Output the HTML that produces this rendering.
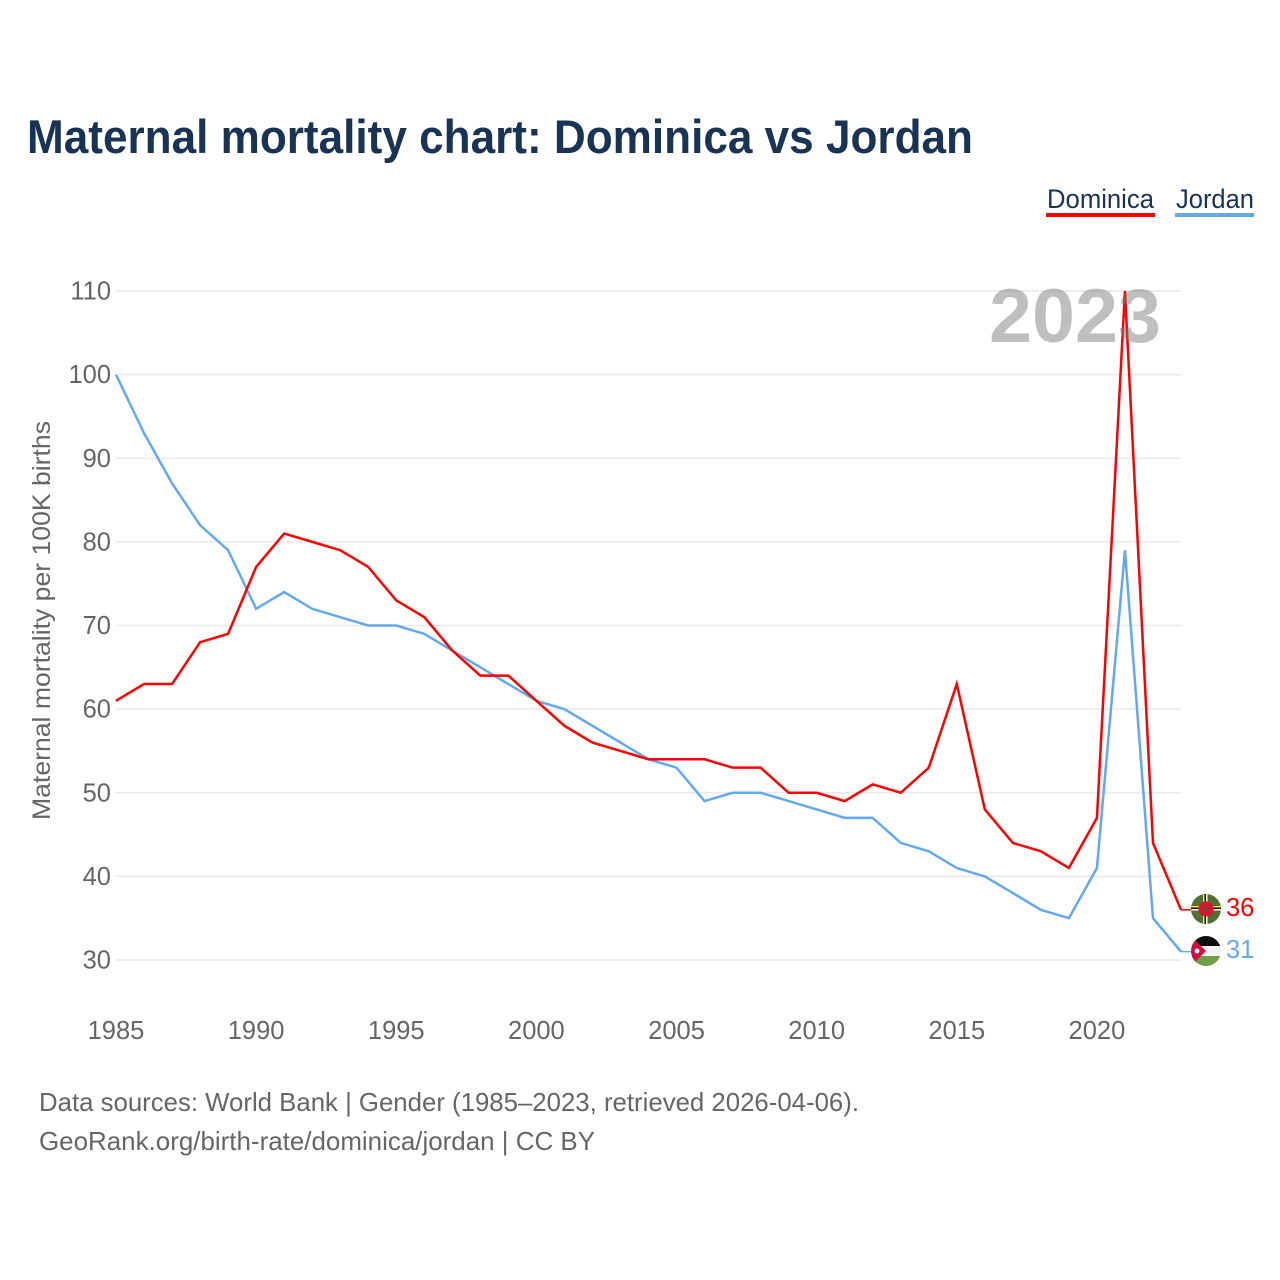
<!DOCTYPE html>
<html lang="en">
<head>
<meta charset="utf-8">
<title>Maternal mortality chart: Dominica vs Jordan</title>
<style>
html,body{margin:0;padding:0;background:#fff;width:1280px;height:1280px;overflow:hidden}
svg{display:block}
text{font-family:"Liberation Sans",sans-serif}
</style>
</head>
<body>
<svg id="chart" width="1280" height="1280" viewBox="0 0 1280 1280" xmlns="http://www.w3.org/2000/svg">
  <defs>
    <clipPath id="clip-dm"><circle cx="1206" cy="909" r="15"/></clipPath>
    <clipPath id="clip-jo"><circle cx="1206" cy="951" r="15"/></clipPath>
  </defs>
  <text x="27" y="153" font-size="47" font-weight="700" fill="#193354" textLength="946" lengthAdjust="spacingAndGlyphs">Maternal mortality chart: Dominica vs Jordan</text>

  <g>
    <text x="1047" y="208" font-size="27" fill="#193354" textLength="107" lengthAdjust="spacingAndGlyphs">Dominica</text>
    <rect x="1046" y="213" width="109" height="4" fill="#ff0000"/>
  </g>
  <g>
    <text x="1176" y="208" font-size="27" fill="#193354" textLength="78" lengthAdjust="spacingAndGlyphs">Jordan</text>
    <rect x="1175" y="213" width="79" height="4" fill="#63a9f0"/>
  </g>

  <g id="grid"></g>
  <g id="y-ticks"></g>
  <g id="x-ticks"></g>
  <text transform="translate(50,620.5) rotate(-90)" text-anchor="middle" font-size="25" fill="#666" textLength="399" lengthAdjust="spacingAndGlyphs">Maternal mortality per 100K births</text>

  <g id="series"></g>

  <text x="1075" y="342" text-anchor="middle" font-size="76" font-weight="700" fill="#777" fill-opacity="0.47" textLength="172" lengthAdjust="spacingAndGlyphs">2023</text>

  <g clip-path="url(#clip-dm)">
    <rect x="1191" y="894" width="30" height="30" fill="#4f7232"/>
    <rect x="1203" y="894" width="1.5" height="30" fill="#f5e04a"/>
    <rect x="1204.5" y="894" width="1.5" height="30" fill="#111"/>
    <rect x="1206" y="894" width="1.5" height="30" fill="#fff"/>
    <rect x="1191" y="906" width="30" height="1.5" fill="#f5e04a"/>
    <rect x="1191" y="907.5" width="30" height="1.5" fill="#111"/>
    <rect x="1191" y="909" width="30" height="1.5" fill="#fff"/>
    <circle cx="1206" cy="909" r="7.5" fill="#dc1431"/>
    <circle cx="1206" cy="909" r="2" fill="#3f5f2a"/>
  </g>
  <g clip-path="url(#clip-jo)">
    <rect x="1191" y="936" width="30" height="10" fill="#0c0c0c"/>
    <rect x="1191" y="946" width="30" height="10" fill="#f3f3f3"/>
    <rect x="1191" y="956" width="30" height="10" fill="#6f9e47"/>
    <polygon points="1191,936 1206,951 1191,966" fill="#ce1240"/>
    <circle cx="1197" cy="951" r="2.4" fill="#fff"/>
  </g>
  <text x="1226" y="916" font-size="25.5" fill="#ff0000">36</text>
  <text x="1226" y="958" font-size="25.5" fill="#63a9f0">31</text>

  <text x="39" y="1111" font-size="26" fill="#666" textLength="820" lengthAdjust="spacingAndGlyphs">Data sources: World Bank | Gender (1985–2023, retrieved 2026-04-06).</text>
  <text x="39" y="1150" font-size="26" fill="#666" textLength="556" lengthAdjust="spacingAndGlyphs">GeoRank.org/birth-rate/dominica/jordan | CC BY</text>
</svg>
<script>
const years = [1985,1986,1987,1988,1989,1990,1991,1992,1993,1994,1995,1996,1997,1998,1999,2000,2001,2002,2003,2004,2005,2006,2007,2008,2009,2010,2011,2012,2013,2014,2015,2016,2017,2018,2019,2020,2021,2022,2023];
const dominica = [61,63,63,68,69,77,81,80,79,77,73,71,67,64,64,61,58,56,55,54,54,54,53,53,50,50,49,51,50,53,63,48,44,43,41,47,110,44,36];
const jordan = [100,93,87,82,79,72,74,72,71,70,70,69,67,65,63,61,60,58,56,54,53,49,50,50,49,48,47,47,44,43,41,40,38,36,35,41,79,35,31];
const yTicks = [30,40,50,60,70,80,90,100,110];
const xTicks = [1985,1990,1995,2000,2005,2010,2015,2020];

const NS = 'http://www.w3.org/2000/svg';
const xOf = function (year) { return 116 + (year - 1985) * (1181 - 116) / (2023 - 1985); };
const yOf = function (value) { return 960 - (value - 30) * (960 - 291) / (110 - 30); };

const gridGroup = document.getElementById('grid');
const yGroup = document.getElementById('y-ticks');
const xGroup = document.getElementById('x-ticks');
const seriesGroup = document.getElementById('series');

yTicks.forEach(function (tick) {
  const line = document.createElementNS(NS, 'line');
  
  
  line.setAttribute('x1', 116);
  line.setAttribute('x2', 1181);
  line.setAttribute('y1', yOf(tick));
  line.setAttribute('y2', yOf(tick));
  line.setAttribute('stroke', '#e9e9e9');
  line.setAttribute('stroke-width', '1.5');
  gridGroup.appendChild(line);

  const label = document.createElementNS(NS, 'text');
  
  
  label.setAttribute('x', 111);
  label.setAttribute('y', yOf(tick) + 8.5);
  label.setAttribute('text-anchor', 'end');
  label.setAttribute('font-size', '25.5');
  label.setAttribute('fill', '#666');
  label.textContent = tick;
  yGroup.appendChild(label);
});

xTicks.forEach(function (tick) {
  const label = document.createElementNS(NS, 'text');
  
  
  label.setAttribute('x', xOf(tick));
  label.setAttribute('y', 1039);
  label.setAttribute('text-anchor', 'middle');
  label.setAttribute('font-size', '25.5');
  label.setAttribute('fill', '#666');
  label.textContent = tick;
  xGroup.appendChild(label);
});

function pointsFor(values) {
  return values.map(function (v, i) { return xOf(years[i]) + ',' + yOf(v); }).join(' ');
}

const jordanLine = document.createElementNS(NS, 'polyline');


jordanLine.setAttribute('points', pointsFor(jordan));
jordanLine.setAttribute('fill', 'none');
jordanLine.setAttribute('stroke', '#63a9f0');
jordanLine.setAttribute('stroke-width', '2.5');
seriesGroup.appendChild(jordanLine);

const dominicaLine = document.createElementNS(NS, 'polyline');


dominicaLine.setAttribute('points', pointsFor(dominica));
dominicaLine.setAttribute('fill', 'none');
dominicaLine.setAttribute('stroke', '#ff0000');
dominicaLine.setAttribute('stroke-width', '2.5');
seriesGroup.appendChild(dominicaLine);

const jordanConnector = document.createElementNS(NS, 'line');


jordanConnector.setAttribute('x1', xOf(2023));
jordanConnector.setAttribute('x2', 1191);
jordanConnector.setAttribute('y1', yOf(jordan[jordan.length - 1]));
jordanConnector.setAttribute('y2', yOf(jordan[jordan.length - 1]));
jordanConnector.setAttribute('stroke', '#63a9f0');
jordanConnector.setAttribute('stroke-width', '1.5');
seriesGroup.appendChild(jordanConnector);

const dominicaConnector = document.createElementNS(NS, 'line');


dominicaConnector.setAttribute('x1', xOf(2023));
dominicaConnector.setAttribute('x2', 1191);
dominicaConnector.setAttribute('y1', yOf(dominica[dominica.length - 1]));
dominicaConnector.setAttribute('y2', yOf(dominica[dominica.length - 1]));
dominicaConnector.setAttribute('stroke', '#ff0000');
dominicaConnector.setAttribute('stroke-width', '1.5');
seriesGroup.appendChild(dominicaConnector);
</script>
</body>
</html>
